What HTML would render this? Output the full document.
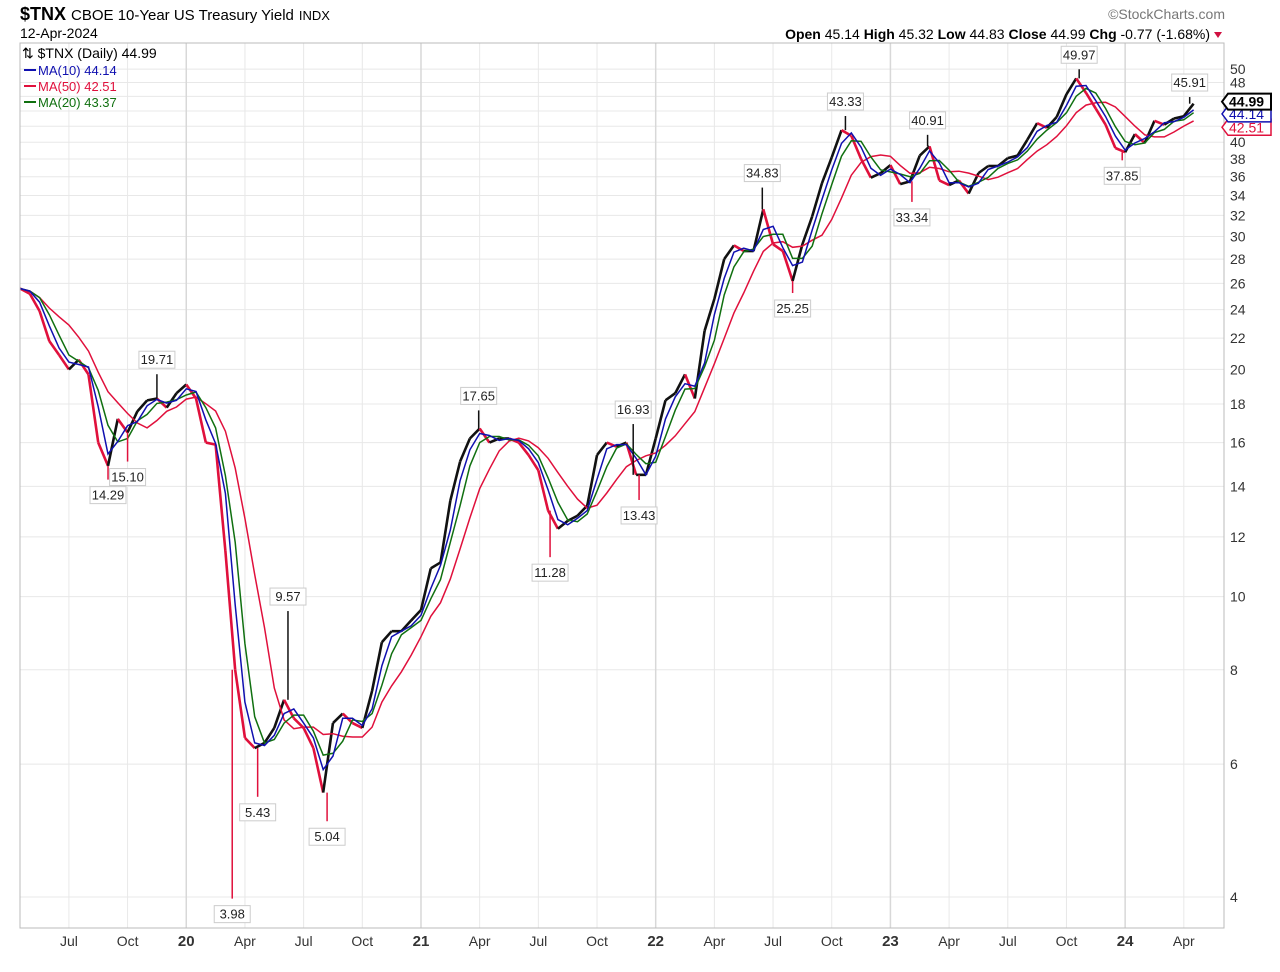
<!DOCTYPE html>
<html><head><meta charset="utf-8">
<style>
body{margin:0;background:#fff;font-family:"Liberation Sans",sans-serif;}
svg text{font-family:"Liberation Sans",sans-serif;}
</style></head>
<body>
<svg id="chart" width="1280" height="967" xmlns="http://www.w3.org/2000/svg">
<g id="grid"></g>
<g id="series"></g>
<g id="annots"></g>
<g id="axes"></g>
<text x="20" y="20" font-size="18" font-weight="bold" fill="#000">$TNX <tspan font-size="15" font-weight="normal">CBOE 10-Year US Treasury Yield</tspan> <tspan font-size="13" font-weight="normal">INDX</tspan></text>
<text x="1225" y="19" font-size="14" fill="#777" text-anchor="end">©StockCharts.com</text>
<text x="20" y="38" font-size="14" fill="#000">12-Apr-2024</text>
<text x="1210" y="39" font-size="14" fill="#000" text-anchor="end"><tspan font-weight="bold">Open</tspan> 45.14 <tspan font-weight="bold">High</tspan> 45.32 <tspan font-weight="bold">Low</tspan> 44.83 <tspan font-weight="bold">Close</tspan> 44.99 <tspan font-weight="bold">Chg</tspan> -0.77 (-1.68%)</text>
<polygon points="1214,32 1222,32 1218,38" fill="#d01040"/>
<g>
<text x="22" y="58" font-size="14" fill="#000">⇅ $TNX (Daily) 44.99</text>
<line x1="24" y1="70" x2="36" y2="70" stroke="#1010b0" stroke-width="2"/>
<text x="38" y="75" font-size="13" fill="#1010b0">MA(10) 44.14</text>
<line x1="24" y1="86" x2="36" y2="86" stroke="#e0103c" stroke-width="2"/>
<text x="38" y="91" font-size="13" fill="#e0103c">MA(50) 42.51</text>
<line x1="24" y1="102" x2="36" y2="102" stroke="#107010" stroke-width="2"/>
<text x="38" y="107" font-size="13" fill="#107010">MA(20) 43.37</text>
</g>
</svg>
<script>
// semi-monthly closes starting mid-Apr 2019
const closes = [25.6,25.2,23.9,21.8,20.9,20.0,20.6,19.7,16.0,14.9,17.2,16.5,17.6,18.2,18.3,17.8,18.6,
19.1,18.3,16.0,15.9,11.5,8.0,6.5,6.3,6.4,6.7,7.3,6.9,6.7,6.3,5.5,6.8,7.0,6.8,6.7,7.5,8.7,9.0,9.0,9.3,
9.6,10.9,11.1,13.4,15.1,16.2,16.7,16.0,16.2,16.2,16.0,15.4,14.7,13.0,12.3,12.6,12.8,13.2,15.4,16.0,15.8,16.0,14.5,14.5,
16.2,18.2,18.6,19.7,18.3,22.5,24.8,28.0,29.2,28.7,28.7,32.6,29.3,28.7,26.2,29.3,31.9,35.3,38.2,41.5,40.8,38.0,35.9,36.4,
37.3,35.2,35.5,38.4,39.5,35.6,35.1,35.6,34.2,36.4,37.2,37.2,38.1,38.4,40.3,42.4,41.8,43.2,46.3,48.6,46.5,44.3,42.2,39.3,
38.8,41.0,39.9,42.7,42.2,43.0,43.3,44.99];
const annIdx = [14,9,11,21.7,24.3,27.4,31.4,46.9,54.2,62.7,63.3,75.9,79,84.4,92.8,91.2,108.3,112.7,119.6];
const annVal = [19.71,14.29,15.10,3.98,5.43,9.57,5.04,17.65,11.28,16.93,13.43,34.83,25.25,43.33,40.91,33.34,49.97,37.85,45.91];
const annPos = ["a","b","b","b","b","a","b","a","b","a","b","a","b","a","a","b","a","b","a"];
const yTicks = [4,6,8,10,12,14,16,18,20,22,24,26,28,30,32,34,36,38,40,42,44,46,48,50];
const yTickShown = [4,6,8,10,12,14,16,18,20,22,24,26,28,30,32,34,36,38,40,48,50];
const xLabels = ["Jul","Oct","20","Apr","Jul","Oct","21","Apr","Jul","Oct","22","Apr","Jul","Oct","23","Apr","Jul","Oct","24","Apr"];
const xLabelMonths = [2.5,5.5,8.5,11.5,14.5,17.5,20.5,23.5,26.5,29.5,32.5,35.5,38.5,41.5,44.5,47.5,50.5,53.5,56.5,59.5];

const L=20,R=1224,T=43,B=928;
const X=m=>L+m*19.56;          // months since mid-Apr 2019
const XI=i=>X(i*0.5);
const Y=v=>897-327.8*Math.log(v/4);
const NS="http://www.w3.org/2000/svg";
function mk(tag,attrs,parent){const e=document.createElementNS(NS,tag);for(const k in attrs)e.setAttribute(k,attrs[k]);parent.appendChild(e);return e;}
const grid=document.getElementById('grid'),ser=document.getElementById('series'),ann=document.getElementById('annots'),axes=document.getElementById('axes');

yTicks.forEach(v=>{const l=mk('line',{x1:L,x2:R,y1:Y(v),y2:Y(v),stroke:'#e8e8e8','stroke-width':1},grid);

});
xLabelMonths.forEach((m,i)=>{const yr=xLabels[i].length==2;const l=mk('line',{x1:X(m),x2:X(m),y1:T,y2:B,stroke:(yr?'#d8d8d8':'#e8e8e8'),'stroke-width':(yr?1.5:1)},grid);


const t=mk('text',{x:X(m),y:946,'font-size':(yr?15:14),'font-weight':(yr?'bold':'normal'),'text-anchor':'middle',fill:'#333'},axes);
t.textContent=xLabels[i];

});
yTickShown.forEach(v=>{const t=mk('text',{x:1230,y:Y(v)+5,'font-size':14,fill:'#333'},axes);t.textContent=v;

});
const fr=mk('rect',{x:L,y:T,width:R-L,height:B-T,fill:'none',stroke:'#bbb','stroke-width':1},axes);



function ma(n){return closes.map((c,i)=>{let s=0,k=0;for(let j=Math.max(0,i-n+1);j<=i;j++){s+=closes[j];k++;}return s/k;});}
function line(arr,color,w,name){const d=arr.map((v,i)=>(i?'L':'M')+XI(i).toFixed(1)+','+Y(v).toFixed(1)).join('');
const p=mk('path',{d:d,fill:'none',stroke:color,'stroke-width':w},ser);

}
// price bars
for(let i=1;i<closes.length;i++){const up=closes[i]>=closes[i-1];
const seg=mk('line',{x1:XI(i-1),y1:Y(closes[i-1]),x2:XI(i),y2:Y(closes[i]),stroke:up?'#111':'#e0103c','stroke-width':2.6},ser);

}
line(ma(6),'#e0103c',1.5,'ma50-line');
line(ma(3),'#107010',1.5,'ma20-line');
line(ma(2),'#1010b0',1.5,'ma10-line');

annIdx.forEach((ix,k)=>{const v=annVal[k],x=X(ix*0.5),y=Y(v);
const near=closes[Math.round(ix)];
const sp=mk('line',{x1:x,x2:x,y1:Y(near),y2:y,stroke:v<near?'#e0103c':'#111','stroke-width':1.5},ser);


const ty=annPos[k]=='a'?y-10:y+20;
const txt=v.toFixed(2);
const r=mk('rect',{x:x-18,y:ty-13,width:36,height:17,fill:'#fff',stroke:'#ccc','stroke-width':1},ann);


const t=mk('text',{x:x,y:ty,'font-size':13,'text-anchor':'middle',fill:'#222'},ann);t.textContent=txt;

});

// right price tags
[[42.51,'#e0103c','#e0103c'],[44.14,'#1010b0','#1010b0'],[44.99,'#000','#000']].forEach((a,k)=>{
const y=k==0?Y(a[0])+5:k==1?Y(a[0])+4:Y(a[0])-2;
const g=mk('path',{d:`M1222,${y} L1228,${y-8} L1271,${y-8} L1271,${y+8} L1228,${y+8} Z`,fill:'#fff',stroke:a[1],'stroke-width':k==2?2:1.5},axes);


const t=mk('text',{x:1229,y:y+5,'font-size':14,'font-weight':k==2?'bold':'normal',fill:a[2]},axes);t.textContent=a[0].toFixed(2);

});
</script>
</body></html>
